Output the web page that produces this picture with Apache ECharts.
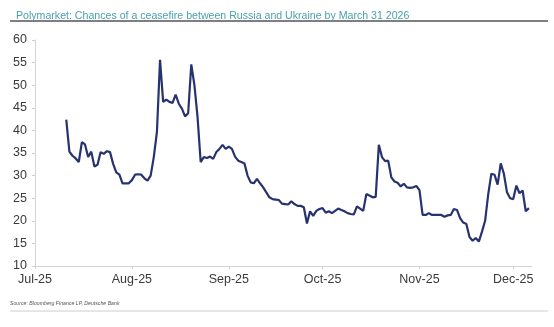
<!DOCTYPE html>
<html>
<head>
<meta charset="utf-8">
<script src="https://cdn.jsdelivr.net/npm/echarts@6/dist/echarts.min.js"></script>
<style>
html,body{margin:0;padding:0;background:#fff;}
#chart{width:554px;height:327px;}
</style>
</head>
<body>
<div id="chart"></div>
<script>
const titleText = 'Polymarket: Chances of a ceasefire between Russia and Ukraine by March 31 2026';
const sourceText = 'Source: Bloomberg Finance LP, Deutsche Bank';
const yTicks = [10, 60, 5]; // min, max, interval
const xRange = ['2025-07-01', '2025-12-07'];

const dates = [
'2025-07-11','2025-07-12','2025-07-13','2025-07-14','2025-07-15','2025-07-16','2025-07-17','2025-07-18','2025-07-19','2025-07-20',
'2025-07-21','2025-07-22','2025-07-23','2025-07-24','2025-07-25','2025-07-26','2025-07-27','2025-07-28','2025-07-29','2025-07-30',
'2025-07-31','2025-08-01','2025-08-02','2025-08-03','2025-08-04','2025-08-05','2025-08-06','2025-08-07','2025-08-08','2025-08-09',
'2025-08-10','2025-08-11','2025-08-12','2025-08-13','2025-08-14','2025-08-15','2025-08-16','2025-08-17','2025-08-18','2025-08-19',
'2025-08-20','2025-08-21','2025-08-22','2025-08-23','2025-08-24','2025-08-25','2025-08-26','2025-08-27','2025-08-28','2025-08-29',
'2025-08-30','2025-08-31','2025-09-01','2025-09-02','2025-09-03','2025-09-04','2025-09-05','2025-09-06','2025-09-07','2025-09-08',
'2025-09-09','2025-09-10','2025-09-11','2025-09-12','2025-09-13','2025-09-14','2025-09-15','2025-09-16','2025-09-17','2025-09-18',
'2025-09-19','2025-09-20','2025-09-21','2025-09-22','2025-09-23','2025-09-24','2025-09-25','2025-09-26','2025-09-27','2025-09-28',
'2025-09-29','2025-09-30','2025-10-01','2025-10-02','2025-10-03','2025-10-04','2025-10-05','2025-10-06','2025-10-07','2025-10-08',
'2025-10-09','2025-10-10','2025-10-11','2025-10-12','2025-10-13','2025-10-14','2025-10-15','2025-10-16','2025-10-17','2025-10-18',
'2025-10-19','2025-10-20','2025-10-21','2025-10-22','2025-10-23','2025-10-24','2025-10-25','2025-10-26','2025-10-27','2025-10-28',
'2025-10-29','2025-10-30','2025-10-31','2025-11-01','2025-11-02','2025-11-03','2025-11-04','2025-11-05','2025-11-06','2025-11-07',
'2025-11-08','2025-11-09','2025-11-10','2025-11-11','2025-11-12','2025-11-13','2025-11-14','2025-11-15','2025-11-16','2025-11-17',
'2025-11-18','2025-11-19','2025-11-20','2025-11-21','2025-11-22','2025-11-23','2025-11-24','2025-11-25','2025-11-26','2025-11-27',
'2025-11-28','2025-11-29','2025-11-30','2025-12-01','2025-12-02','2025-12-03','2025-12-04','2025-12-05','2025-12-06'
];

const chances = [
42.4,35.3,34.4,33.8,33.0,37.4,36.9,34.1,35.3,32.0,
32.4,35.2,34.8,35.4,35.2,32.6,30.7,30.2,28.3,28.3,
28.3,29.0,30.2,30.3,30.2,29.4,28.9,30.0,34.1,39.6,
55.6,46.3,46.8,46.3,46.1,47.9,45.9,44.8,43.1,43.8,
54.6,50.0,43.0,33.0,34.1,33.9,34.2,33.7,35.2,35.9,
36.8,35.9,36.4,35.9,34.2,33.3,33.0,32.7,30.0,28.5,
28.3,29.3,28.3,27.4,26.3,25.2,24.8,24.7,24.6,23.8,
23.7,23.6,24.3,23.7,23.3,23.3,23.0,19.4,22.1,21.1,
22.2,22.6,22.8,21.8,22.1,21.7,22.2,22.7,22.4,22.1,
21.7,21.5,21.4,23.2,22.7,22.2,25.9,25.6,25.2,25.3,
36.8,34.1,33.2,33.3,29.6,28.7,28.4,27.6,28.2,27.4,
27.3,27.4,27.7,26.8,21.3,21.3,21.7,21.3,21.3,21.3,
21.3,20.9,21.2,21.3,22.6,22.4,20.6,19.6,19.3,16.4,
15.6,16.2,15.4,17.6,20.0,25.9,30.4,30.2,28.0,32.7,
30.4,26.3,25.0,24.8,27.8,26.1,26.7,22.1,22.8
];

const seriesData = dates.map((d, i) => [d, chances[i]]);
const DAY = 24 * 3600 * 1000;

const chart = echarts.init(document.getElementById('chart'), null, {renderer: 'canvas'});
chart.setOption({
  animation: false,
  backgroundColor: '#ffffff',
  textStyle: {fontFamily: 'Liberation Sans, Arial, sans-serif'},
  title: {
    text: titleText,
    left: 11, top: 6,
    textStyle: {color: '#4a9fae', fontSize: 10.6, fontWeight: 'normal', fontFamily: 'Liberation Sans, Arial, sans-serif'}
  },
  graphic: [
    {type: 'line', shape: {x1: 10, y1: 21, x2: 548, y2: 21}, style: {stroke: '#555', lineWidth: 1.5}},
    {type: 'text', left: 10, top: 301, style: {text: sourceText, fill: '#555', font: 'italic 5.2px Liberation Sans, Arial, sans-serif'}},
    {type: 'line', shape: {x1: 10, y1: 311, x2: 548, y2: 311}, style: {stroke: '#ccc', lineWidth: 1}}
  ],
  grid: {left: 35, right: 22, top: 40, bottom: 61, containLabel: false},
  xAxis: {
    type: 'time',
    min: xRange[0],
    max: xRange[1],
    minInterval: 28 * DAY,
    maxInterval: 31 * DAY,
    axisLine: {show: true, lineStyle: {color: '#d5d5d5', width: 1}},
    axisTick: {show: true, length: 3, lineStyle: {color: '#cfcfcf'}},
    splitLine: {show: false},
    axisLabel: {
      color: '#3a3a3a', fontSize: 12.5, margin: 7,
      formatter: '{MMM}-{yy}',
      showMinLabel: true, showMaxLabel: false, hideOverlap: false
    }
  },
  yAxis: {
    type: 'value',
    min: yTicks[0], max: yTicks[1], interval: yTicks[2],
    axisLine: {show: true, lineStyle: {color: '#d5d5d5', width: 1}},
    axisTick: {show: true, length: 3, lineStyle: {color: '#cfcfcf'}},
    splitLine: {show: false},
    axisLabel: {color: '#3a3a3a', fontSize: 12.5, margin: 8}
  },
  series: [{
    type: 'line',
    data: seriesData,
    showSymbol: false,
    symbol: 'none',
    lineStyle: {color: '#27336f', width: 2.2},
    itemStyle: {color: '#27336f'}
  }]
});
</script>
</body>
</html>
